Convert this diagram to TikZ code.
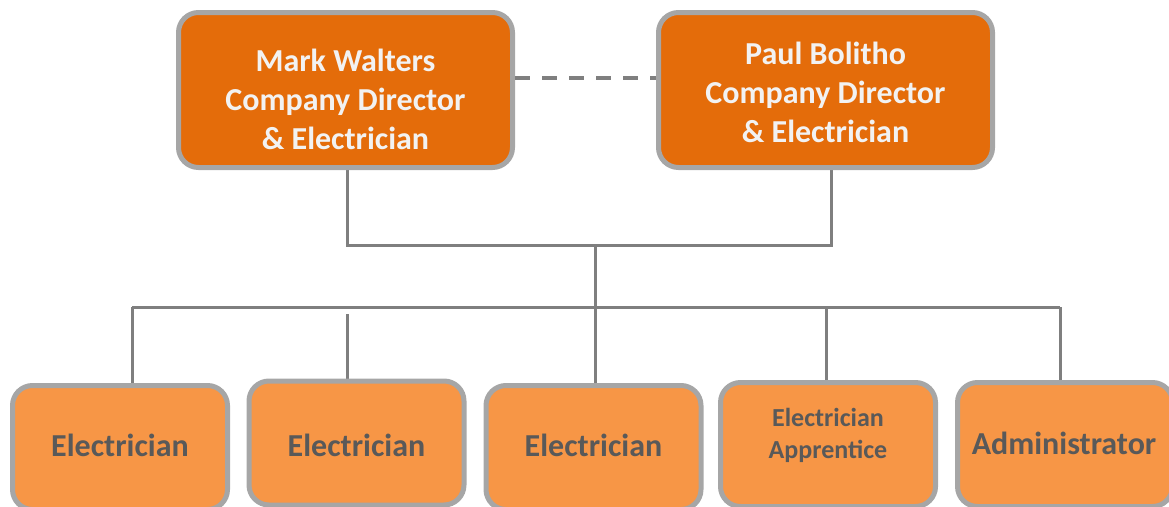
\documentclass[tikz,border=0pt]{standalone}
\usepackage{fontspec}
\setmainfont{Carlito}
\usetikzlibrary{backgrounds}
\definecolor{darkor}{HTML}{E46C0A}
\definecolor{lightor}{HTML}{F79646}
\definecolor{bordergray}{HTML}{A6A6A6}
\definecolor{linegray}{HTML}{7F7F7F}
\definecolor{txtgray}{HTML}{595959}
\definecolor{txtwhite}{HTML}{F2F2F2}
\tikzset{
  topbox/.style={draw=bordergray, line width=5pt, fill=darkor, rounded corners=20pt,
    minimum width=334pt, minimum height=155pt, inner sep=0pt},
  botbox/.style={draw=bordergray, line width=5pt, fill=lightor, rounded corners=20pt,
    minimum width=215pt, minimum height=124pt, inner sep=0pt},
  toptext/.style={text=txtwhite, font=\bfseries\fontsize{32}{39}\selectfont, align=center, inner sep=0pt},
  bottext/.style={text=txtgray, font=\bfseries\fontsize{32}{38}\selectfont, align=center, inner sep=0pt},
  smalltext/.style={text=txtgray, font=\bfseries\fontsize{26}{32}\selectfont, align=center, inner sep=0pt},
  conn/.style={draw=linegray, line width=3pt},
  dashconn/.style={draw=linegray, line width=4pt, dash pattern=on 15pt off 12pt},
}
\begin{document}
\begin{tikzpicture}[x=1pt,y=-1pt]
\useasboundingbox (0,0) rectangle (1169,506);
\clip (0,0) rectangle (1169,506);
% top boxes
\node[topbox] (m) at (345.5,90) {};
\node[topbox] (p) at (825.5,90) {};
\node[toptext] (mt) at (345.5,99) {Mark Walters\\Company Director\\\& Electrician};
\node[toptext] (pt) at (825.5,92) {Paul Bolitho\\Company Director\\\& Electrician};
% bottom boxes
\node[botbox] (e1) at (120,447.5) {};
\node[botbox] (e2) at (356.5,443) {};
\node[botbox] (e3) at (593.5,447.5) {};
\node[botbox] (e4) at (828,444.5) {};
\node[botbox] (e5) at (1065,444.5) {};
\node[bottext] (t1) at (120,445) {Electrician};
\node[bottext] (t2) at (356.5,445) {Electrician};
\node[bottext] (t3) at (593.5,445) {Electrician};
\node[smalltext] (t4) at (828,435) {Electrician\\Apprentice};
\node[bottext] (t5) at (1064,443) {Administrator};
% connectors
\coordinate (j1) at (347,245);
\coordinate (j2) at (831,245);
\coordinate (jm) at (595,245);
\coordinate (b1) at (132,307);
\coordinate (b2) at (347,314);
\coordinate (b3) at (595,307);
\coordinate (b4) at (826,307);
\coordinate (b5) at (1060,307);
\begin{scope}[on background layer]
\draw[conn] (m.south -| j1) -- (j1) -- (j2) -- (p.south -| j2);
\draw[conn] (jm) -- (b3);
\draw[conn] (b1) -- (b5);
\draw[conn] (b1) -- (b1 |- e1.north);
\draw[conn] (b2) -- (b2 |- e2.north);
\draw[conn] (b3) -- (b3 |- e3.north);
\draw[conn] (b4) -- (b4 |- e4.north);
\draw[conn] (b5) -- (b5 |- e5.north);
\end{scope}
\draw[dashconn] ([yshift=12pt]m.east) -- ([yshift=12pt]p.west);
\end{tikzpicture}
\end{document}
